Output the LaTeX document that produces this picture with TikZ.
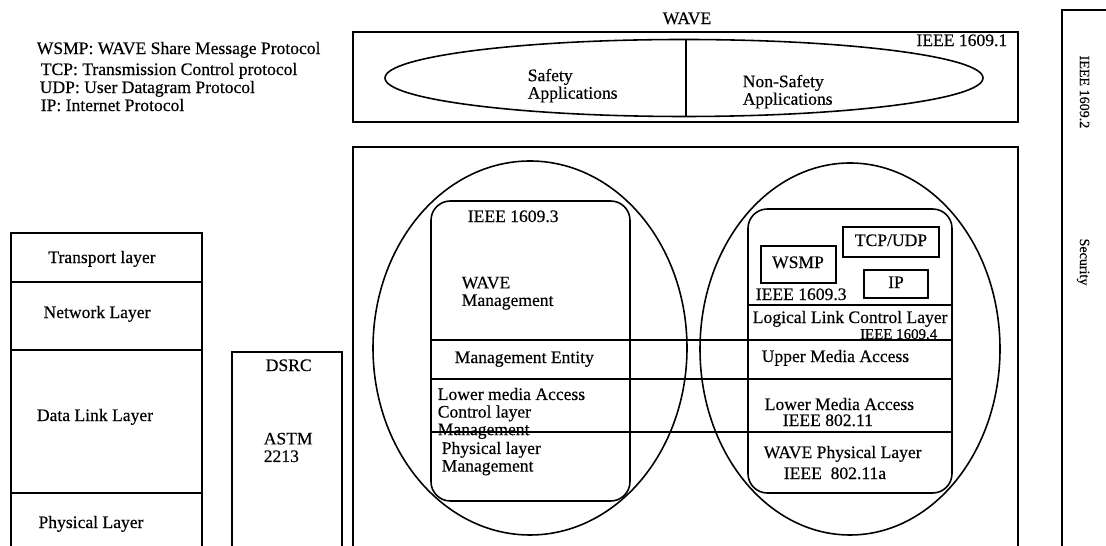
\documentclass[tikz,border=0pt]{standalone}
\usepackage{fontspec}
\setmainfont[FakeBold=0.4]{Liberation Serif}
\usetikzlibrary{positioning}
\begin{document}
\begin{tikzpicture}[x=0.02cm, y=-0.02cm, line width=0.9pt,
		txt/.style={inner sep=0pt, font=\fontsize{10}{10}\selectfont, align=left},
		lbl/.style={txt, anchor=mid west},
		blk/.style={txt, anchor=north west},
		ctr/.style={txt, anchor=mid},
		side/.style={ctr, rotate=-90, font=\fontsize{8}{8}\selectfont},
		stack/.style={draw, rounded corners=11pt}]
	\useasboundingbox (0,0) rectangle (1106,546);
	
	% --- 1. 缩写说明 ---
	\node[lbl] (wsmpdef) at (36,50) {WSMP: WAVE Share Message Protocol};
	\node[lbl] (tcpdef) at (40,71) {TCP: Transmission Control protocol};
	\node[lbl] (udpdef) at (39,89) {UDP: User Datagram Protocol};
	\node[lbl] (ipdef) at (40,107) {IP: Internet Protocol};
	
	% --- 2. 应用层 (IEEE 1609.1) ---
	\node[ctr] (wave) at (687,20) {WAVE};
	\draw (353,32) rectangle (1018,122);
	\coordinate (A) at (684,78);
	\draw (A) ellipse [x radius=299, y radius=38.5];
	\draw (686,40) -- (686,117);
	\node[lbl, anchor=mid east] (ieee1) at (1008,42) {IEEE 1609.1};
	\node[blk] (safe) at (527,68) {Safety\\Applications};
	\node[blk] (nonsafe) at (742,74) {Non-Safety\\Applications};
	
	% --- 3. 安全 (IEEE 1609.2) ---
	\draw (1106,10) -| (1062,546);
	\node[side] (ieee2) at (1084,92) {IEEE 1609.2};
	\node[side] (sec) at (1084,262) {Security};
	
	% --- 4. OSI 分层 ---
	\draw (11,546) |- (202,233) -- (202,546);
	\foreach \y in {282,350,493}
		\draw (11,\y) -- (202,\y);
	\node[ctr] (transport) at (102,259) {Transport layer};
	\node[ctr] (network) at (97,314) {Network Layer};
	\node[ctr] (datalink) at (95,417) {Data Link Layer};
	\node[ctr] (physical) at (91,524) {Physical Layer};
	
	% --- 5. DSRC ---
	\draw (232,546) |- (342,352) -- (342,546);
	\node[lbl] (dsrc) at (265,367) {DSRC};
	\node[blk] (astm) at (263,432) {ASTM\\2213};
	
	% --- 6. WAVE 协议栈外框与两个椭圆 ---
	\draw (353,546) |- (1018,147) -- (1018,546);
	\coordinate (ML) at (530,348);   % 管理平面
	\coordinate (DL) at (850,349);   % 数据平面
	\draw (ML) ellipse [x radius=157, y radius=187];
	\draw (DL) ellipse [x radius=150, y radius=186];
	\draw[stack] (431,201) rectangle (630,501);
	\draw[stack] (748,209) rectangle (952,493);
	
	% 贯穿两侧的分层线
	\foreach \y in {340,379,432}
		\draw (431,\y) -- (952,\y);
	\draw (748,305) -- (952,305);
	
	% --- 7. 管理平面文字 ---
	\node[lbl] (ieee3a) at (467,218) {IEEE 1609.3};
	\node[blk] (wme) at (461,276) {WAVE\\Management};
	\node[lbl] (entity) at (454,359) {Management Entity};
	\node[blk] (lmlme) at (437,387) {Lower media Access\\Control layer\\Management};
	\node[blk] (plme) at (441,441) {Physical layer\\Management};
	
	% --- 8. 数据平面 ---
	\draw (761,246) rectangle (836,283);
	\node[ctr] (wsmp) at (798,264) {WSMP};
	\draw (843,227) rectangle (939,257);
	\node[ctr] (tcpudp) at (891,242) {TCP/UDP};
	\draw (864,270) rectangle (928,298);
	\node[ctr] (ip) at (896,284) {IP};
	\node[lbl] (ieee3b) at (755,296) {IEEE 1609.3};
	\node[lbl] (llc) at (752,319) {Logical Link Control Layer};
	\node[txt, anchor=base east, font=\fontsize{8.5}{9}\selectfont] (ieee4) at (938,339) {IEEE 1609.4};
	\node[lbl] (umac) at (761,358) {Upper Media Access};
	\node[lbl] (lmac) at (764,406) {Lower Media Access};
	\node[lbl] (ieee11) at (782,422) {IEEE 802.11};
	\node[lbl] (phy) at (763,454) {WAVE Physical Layer};
	\node[lbl] (ieee11a) at (783,475) {IEEE\ \ 802.11a};
	
\end{tikzpicture}
\end{document}
